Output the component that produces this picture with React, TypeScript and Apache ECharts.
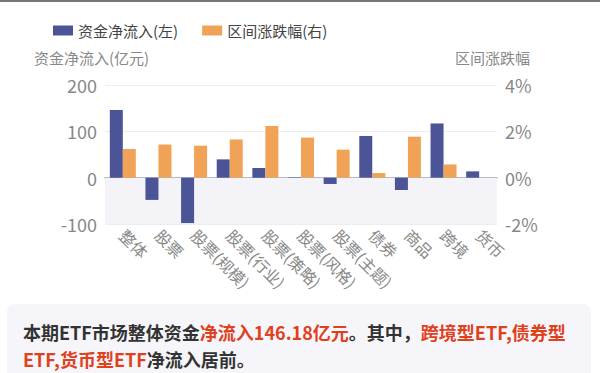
import React, { useEffect, useRef } from "react";
import * as echarts from "echarts";

const categories = ["整体", "股票", "股票(规模)", "股票(行业)", "股票(策略)", "股票(风格)", "股票(主题)", "债券", "商品", "跨境", "货币"];
const netInflow = [146.18, -48, -98, 39.5, 21, 1, -13.6, 90, -26.6, 117, 13.6];
const rangeChange = [1.24, 1.43, 1.38, 1.65, 2.23, 1.73, 1.21, 0.2, 1.77, 0.57, 0];
const leftTicks = { min: -100, max: 200, interval: 100 };
const rightTicks = { min: -2, max: 4, interval: 2 };

const FONT = "'Noto Sans CJK SC', 'Noto Sans', sans-serif";

export default function App() {
  const ref = useRef<HTMLDivElement>(null);
  useEffect(() => {
    document.body.style.margin = "0";
    const chart = echarts.init(ref.current!, undefined, { renderer: "svg" });
    chart.setOption({
      animation: false,
      textStyle: { fontFamily: FONT },
      legend: {
        left: 48,
        top: 18,
        itemWidth: 20,
        itemHeight: 10,
        itemGap: 24,
        icon: "rect",
        textStyle: { fontSize: 15, color: "#444", fontFamily: FONT },
        data: ["资金净流入(左)", "区间涨跌幅(右)"],
      },
      graphic: [
        { type: "text", left: 34, top: 50, style: { text: "资金净流入(亿元)", fontSize: 15, fill: "#888", fontFamily: FONT } },
        { type: "text", left: 455, top: 50, style: { text: "区间涨跌幅", fontSize: 15, fill: "#888", fontFamily: FONT } },
      ],
      grid: { left: 105, right: 103, top: 85, bottom: 149 },
      xAxis: {
        type: "category",
        data: categories,
        axisLine: { onZero: true, lineStyle: { color: "#8c8fa8", width: 1.5 } },
        axisTick: { show: false },
        axisLabel: { interval: 0, rotate: -45, fontSize: 16, color: "#888", fontFamily: FONT, margin: 8 },
      },
      yAxis: [
        {
          type: "value",
          ...leftTicks,
          axisLine: { show: false },
          axisTick: { show: false },
          axisLabel: { fontSize: 18, color: "#888", margin: 8, fontFamily: FONT },
          splitLine: { lineStyle: { color: "#ececf4" } },
        },
        {
          type: "value",
          ...rightTicks,
          axisLine: { show: false },
          axisTick: { show: false },
          axisLabel: { fontSize: 18, color: "#888", margin: 8, formatter: "{value}%", fontFamily: FONT },
          splitLine: { show: false },
        },
      ],
      series: [
        {
          name: "资金净流入(左)",
          type: "bar",
          yAxisIndex: 0,
          data: netInflow,
          barWidth: 13,
          barGap: "0%",
          itemStyle: { color: "#4a5497" },
          markArea: {
            silent: true,
            itemStyle: { color: "#f4f4f8" },
            data: [[{ yAxis: 0 }, { yAxis: leftTicks.min }]],
          },
        },
        {
          name: "区间涨跌幅(右)",
          type: "bar",
          yAxisIndex: 1,
          data: rangeChange,
          barWidth: 13,
          itemStyle: { color: "#f0a356" },
        },
      ],
    });
    return () => chart.dispose();
  }, []);
  const red = { color: "#e0401c" };
  const line = { whiteSpace: "nowrap" as const, height: 27 };
  return (
    <div style={{ position: "relative", width: 600, height: 373, overflow: "hidden", background: "#fff", fontFamily: FONT }}>
      <div style={{ position: "absolute", left: 0, top: 0, width: 600, height: 2, background: "#777" }} />
      <div ref={ref} style={{ position: "absolute", left: 0, top: 0, width: 600, height: 373 }} />
      <div
        style={{
          position: "absolute",
          left: 7,
          top: 304,
          width: 584,
          height: 80,
          background: "#f6f6fa",
          borderRadius: 8,
          boxSizing: "border-box",
          padding: "15px 0 0 16px",
          fontSize: 18,
          fontWeight: 700,
          lineHeight: "27px",
          color: "#333",
        }}
      >
        <div style={line}>
          <span>本期ETF市场整体资金</span>
          <span style={red}>净流入146.18亿元</span>
          <span>。其中，</span>
          <span style={red}>跨境型ETF,债券型</span>
        </div>
        <div style={line}>
          <span style={red}>ETF,货币型ETF</span>
          <span>净流入居前。</span>
        </div>
      </div>
    </div>
  );
}
